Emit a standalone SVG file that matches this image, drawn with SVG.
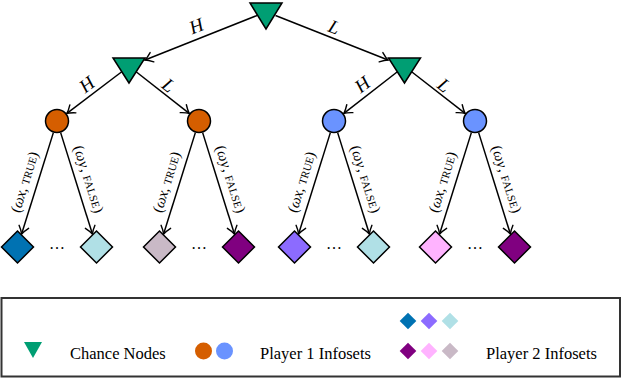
<svg xmlns="http://www.w3.org/2000/svg" width="622" height="378" viewBox="0 0 622 378">
<style>
.chance{fill:#009E73;stroke:#000;stroke-width:1.5;stroke-linejoin:miter}
.p1a{fill:#D55E00;stroke:#000;stroke-width:1.5}
.p1b{fill:#6A93FF;stroke:#000;stroke-width:1.5}
.dia{stroke:#000;stroke-width:1.5;stroke-linejoin:miter}
.edge{fill:none;stroke:#000;stroke-width:1.5;marker-end:url(#arr)}
.lbl{font-family:"Liberation Serif",serif;font-style:italic;font-size:19px;text-anchor:middle;fill:#000}
.elbl{font-family:"Liberation Serif",serif;font-size:15px;text-anchor:middle;fill:#000}
.sc{font-size:11px;font-style:normal}
.it{font-style:italic}
.dots{font-family:"Liberation Serif",serif;font-size:16px;text-anchor:middle;fill:#000}
.leg{font-family:"Liberation Serif",serif;font-size:16.5px;fill:#000}
</style>
<defs>
<marker id="arr" markerUnits="userSpaceOnUse" markerWidth="14" markerHeight="14" viewBox="-8 -7 10 14" refX="0" refY="0" orient="auto" overflow="visible">
<path d="M-7.5,-5 Q-3,-1.3 0,0 Q-3,1.3 -7.5,5" fill="none" stroke="#000" stroke-width="1.4" stroke-linecap="round"/>
</marker>
</defs>
<rect width="622" height="378" fill="#fff"/>

<g id="connectors">
<path class="edge" d="M257,15.5 L145,60"/>
<path class="edge" d="M275.5,15.5 L388,60"/>
<path class="edge" d="M123.4,70.5 L66.9,113.4"/>
<path class="edge" d="M134.5,70.5 L189.2,113.3"/>
<path class="edge" d="M399,70.5 L343.9,113.3"/>
<path class="edge" d="M410,70.5 L465.1,113.3"/>
<path class="edge" d="M53.3,132.9 L21.6,234"/>
<path class="edge" d="M60.7,132.9 L92.4,234"/>
<path class="edge" d="M195.3,132.9 L163.6,234"/>
<path class="edge" d="M202.7,132.9 L234.4,234"/>
<path class="edge" d="M330.3,132.9 L298.6,234"/>
<path class="edge" d="M337.7,132.9 L369.4,234"/>
<path class="edge" d="M471.3,132.9 L439.6,234"/>
<path class="edge" d="M478.7,132.9 L510.4,234"/>
<text class="lbl" transform="translate(198.5,32) rotate(-21.7)">H</text>
<text class="lbl" transform="translate(332,33) rotate(21.7)">L</text>
<text class="lbl" transform="translate(90.8,89.5) rotate(-37.4)">H</text>
<text class="lbl" transform="translate(164.6,90.3) rotate(38)">L</text>
<text class="lbl" transform="translate(366.3,89.5) rotate(-37.4)">H</text>
<text class="lbl" transform="translate(440.1,90.3) rotate(38)">L</text>
<text class="elbl" transform="translate(29.1,183.5) rotate(-72.6)" textLength="63" lengthAdjust="spacing">(<tspan class="it">ωx</tspan>, <tspan class="sc">TRUE</tspan>)</text>
<text class="elbl" transform="translate(84,180.6) rotate(72.6)" textLength="70" lengthAdjust="spacing">(<tspan class="it">ωy</tspan>, <tspan class="sc">FALSE</tspan>)</text>
<text class="elbl" transform="translate(171.1,183.5) rotate(-72.6)" textLength="63" lengthAdjust="spacing">(<tspan class="it">ωx</tspan>, <tspan class="sc">TRUE</tspan>)</text>
<text class="elbl" transform="translate(226,180.6) rotate(72.6)" textLength="70" lengthAdjust="spacing">(<tspan class="it">ωy</tspan>, <tspan class="sc">FALSE</tspan>)</text>
<text class="elbl" transform="translate(306.1,183.5) rotate(-72.6)" textLength="63" lengthAdjust="spacing">(<tspan class="it">ωx</tspan>, <tspan class="sc">TRUE</tspan>)</text>
<text class="elbl" transform="translate(361,180.6) rotate(72.6)" textLength="70" lengthAdjust="spacing">(<tspan class="it">ωy</tspan>, <tspan class="sc">FALSE</tspan>)</text>
<text class="elbl" transform="translate(447.1,183.5) rotate(-72.6)" textLength="63" lengthAdjust="spacing">(<tspan class="it">ωx</tspan>, <tspan class="sc">TRUE</tspan>)</text>
<text class="elbl" transform="translate(502,180.6) rotate(72.6)" textLength="70" lengthAdjust="spacing">(<tspan class="it">ωy</tspan>, <tspan class="sc">FALSE</tspan>)</text>
</g>

<g id="chance-root"><polygon class="chance" points="250,3 282,3 266,29"/></g>
<g id="chance-H"><polygon class="chance" points="113,58 145,58 129,83"/></g>
<g id="chance-L"><polygon class="chance" points="388.5,58 420.5,58 404.5,83"/></g>

<g id="p1-HH"><circle class="p1a" cx="57" cy="121" r="11.5"/></g>
<g id="p1-HL"><circle class="p1a" cx="199" cy="121" r="11.5"/></g>
<g id="p1-LH"><circle class="p1b" cx="334" cy="121" r="11.5"/></g>
<g id="p1-LL"><circle class="p1b" cx="475" cy="121" r="11.5"/></g>

<g id="leaf-1"><polygon class="dia" fill="#0072B2" points="17.5,231 33.5,247 17.5,263 1.5,247"/></g>
<g id="leaf-2"><polygon class="dia" fill="#B0E0E6" points="96.5,231 112.5,247 96.5,263 80.5,247"/></g>
<g id="leaf-3"><polygon class="dia" fill="#C9B9C6" points="159.5,231 175.5,247 159.5,263 143.5,247"/></g>
<g id="leaf-4"><polygon class="dia" fill="#800080" points="238.5,231 254.5,247 238.5,263 222.5,247"/></g>
<g id="leaf-5"><polygon class="dia" fill="#8C6BFF" points="294.5,231 310.5,247 294.5,263 278.5,247"/></g>
<g id="leaf-6"><polygon class="dia" fill="#B0E0E6" points="373.5,231 389.5,247 373.5,263 357.5,247"/></g>
<g id="leaf-7"><polygon class="dia" fill="#FFB3FF" points="435.5,231 451.5,247 435.5,263 419.5,247"/></g>
<g id="leaf-8"><polygon class="dia" fill="#800080" points="514.5,231 530.5,247 514.5,263 498.5,247"/></g>

<g id="ellipses">
<text class="dots" x="57" y="249">…</text>
<text class="dots" x="199" y="249">…</text>
<text class="dots" x="334" y="249">…</text>
<text class="dots" x="475" y="249">…</text>
</g>

<g id="legend">
<rect x="1.5" y="298" width="618.5" height="78.5" fill="none" stroke="#333" stroke-width="2"/>
<polygon fill="#009E73" points="24,342 42,342 33,358"/>
<text class="leg" x="70" y="359">Chance Nodes</text>
<circle cx="203.5" cy="351" r="8.5" fill="#D55E00"/>
<circle cx="224.5" cy="351" r="8.5" fill="#6A93FF"/>
<text class="leg" x="260" y="359">Player 1 Infosets</text>
<polygon fill="#0072B2" points="408,312.7 416.3,321 408,329.3 399.7,321"/>
<polygon fill="#8C6BFF" points="429,312.7 437.3,321 429,329.3 420.7,321"/>
<polygon fill="#B0E0E6" points="450,312.7 458.3,321 450,329.3 441.7,321"/>
<polygon fill="#800080" points="408,342.7 416.3,351 408,359.3 399.7,351"/>
<polygon fill="#FFB3FF" points="429,342.7 437.3,351 429,359.3 420.7,351"/>
<polygon fill="#C9B9C6" points="450,342.7 458.3,351 450,359.3 441.7,351"/>
<text class="leg" x="486" y="359">Player 2 Infosets</text>
</g>
</svg>
